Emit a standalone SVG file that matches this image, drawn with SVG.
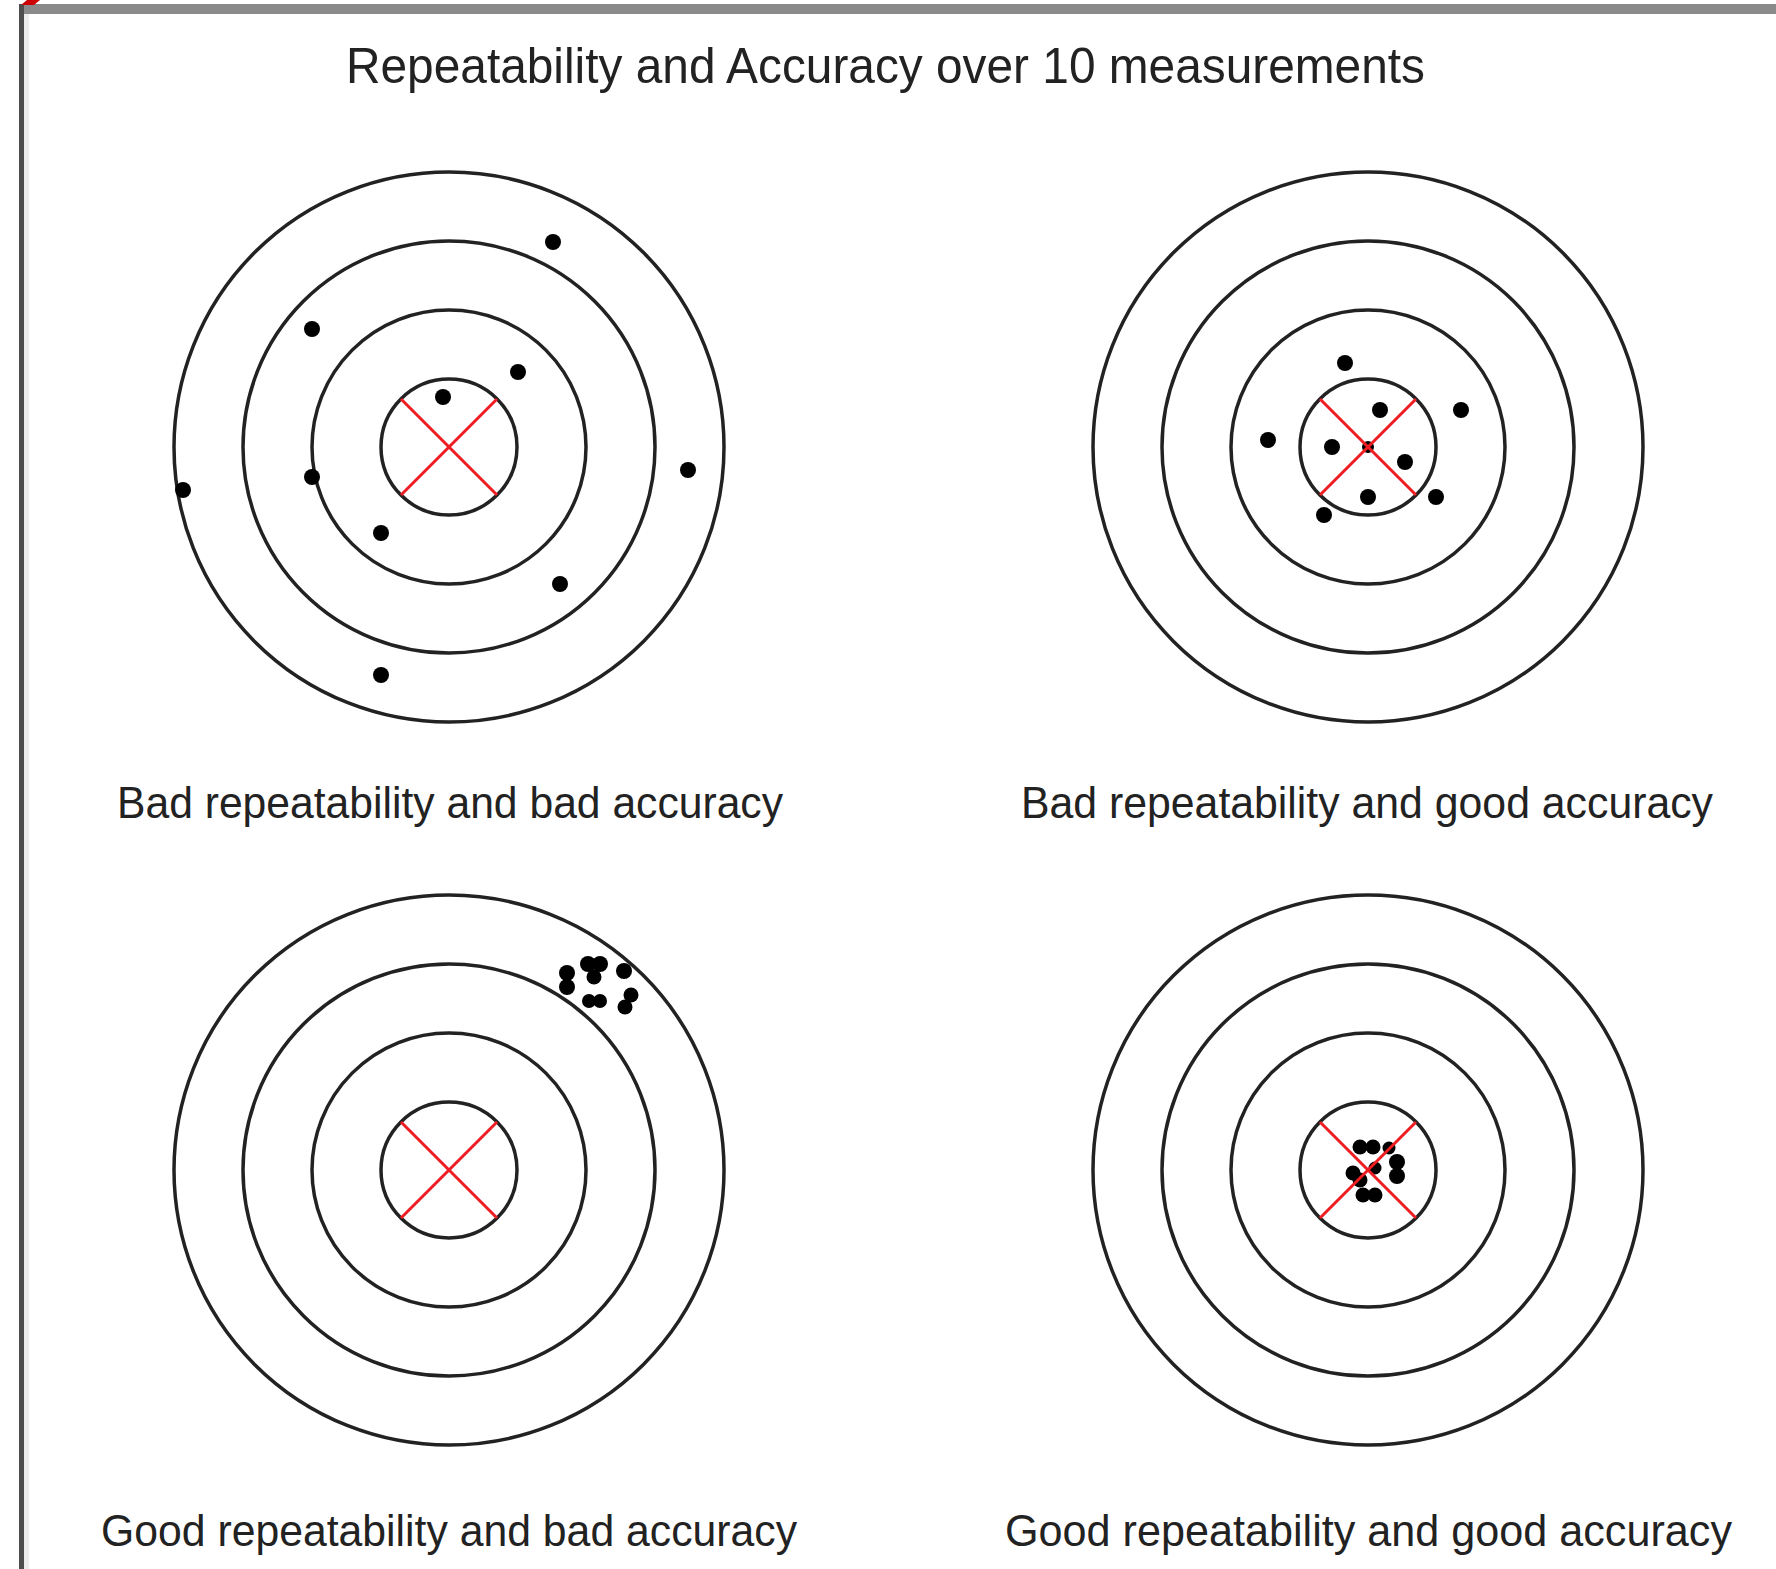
<svg xmlns="http://www.w3.org/2000/svg" xmlns:xlink="http://www.w3.org/1999/xlink" width="1776" height="1569" viewBox="0 0 1776 1569">
<style>
.ring{fill:none;stroke:#222;stroke-width:3.5}
.cross{stroke:#ee1d23;stroke-width:3;stroke-linecap:butt}
.dot{fill:#000}
.lbl{font-family:"Liberation Sans",Arial,sans-serif;font-size:45px;fill:#222}
.title{font-family:"Liberation Sans",Arial,sans-serif;font-size:50px;fill:#222}
</style>
<defs>
<g id="rings">
<circle class="ring" r="275"/>
<circle class="ring" r="206"/>
<circle class="ring" r="137"/>
<circle class="ring" r="68"/>
</g>
<g id="xmark">
<line class="cross" x1="-48" y1="-48" x2="48" y2="48"/>
<line class="cross" x1="48" y1="-48" x2="-48" y2="48"/>
</g>
</defs>
<rect x="0" y="0" width="1776" height="1569" fill="#fff"/>
<g id="frame">
<rect x="24" y="14" width="5" height="1555" fill="#ececec"/>
<rect x="19" y="4" width="1757" height="10" fill="#8a8a8a"/>
<rect x="19" y="4" width="5" height="1565" fill="#4d4d4d"/>
<polygon points="27,0 40,0 34,5 21,5" fill="#cc0000"/>
</g>
<text id="title" class="title" x="346" y="83" textLength="1079" lengthAdjust="spacingAndGlyphs">Repeatability and Accuracy over 10 measurements</text>
<g id="target-bad-bad">
<use xlink:href="#rings" href="#rings" x="449" y="447"/>
<use xlink:href="#xmark" href="#xmark" x="449" y="447"/>
<g class="dot">
<circle cx="553" cy="242" r="8"/>
<circle cx="312" cy="329" r="8"/>
<circle cx="518" cy="372" r="8"/>
<circle cx="443" cy="397" r="8"/>
<circle cx="688" cy="470" r="8"/>
<circle cx="183" cy="490" r="8"/>
<circle cx="312" cy="477" r="8"/>
<circle cx="381" cy="533" r="8"/>
<circle cx="560" cy="584" r="8"/>
<circle cx="381" cy="675" r="8"/>
</g>
<text class="lbl" x="117" y="818" textLength="666" lengthAdjust="spacingAndGlyphs">Bad repeatability and bad accuracy</text>
</g>
<g id="target-bad-good">
<use xlink:href="#rings" href="#rings" x="1368" y="447"/>
<g class="dot">
<circle cx="1345" cy="363" r="8"/>
<circle cx="1380" cy="410" r="8"/>
<circle cx="1461" cy="410" r="8"/>
<circle cx="1268" cy="440" r="8"/>
<circle cx="1332" cy="447" r="8"/>
<circle cx="1368" cy="447" r="6"/>
<circle cx="1405" cy="462" r="8"/>
<circle cx="1368" cy="497" r="8"/>
<circle cx="1436" cy="497" r="8"/>
<circle cx="1324" cy="515" r="8"/>
</g>
<use xlink:href="#xmark" href="#xmark" x="1368" y="447"/>
<text class="lbl" x="1021" y="818" textLength="692" lengthAdjust="spacingAndGlyphs">Bad repeatability and good accuracy</text>
</g>
<g id="target-good-bad">
<use xlink:href="#rings" href="#rings" x="449" y="1170"/>
<use xlink:href="#xmark" href="#xmark" x="449" y="1170"/>
<g class="dot">
<circle cx="567" cy="973" r="8"/>
<circle cx="567" cy="987" r="8"/>
<circle cx="588" cy="964" r="8"/>
<circle cx="600" cy="964" r="8"/>
<circle cx="594" cy="977" r="7.5"/>
<circle cx="624" cy="971" r="8"/>
<circle cx="589" cy="1001" r="7"/>
<circle cx="600" cy="1001" r="7"/>
<circle cx="631" cy="995" r="7.5"/>
<circle cx="625" cy="1007" r="7.5"/>
</g>
<text class="lbl" x="101" y="1546" textLength="696" lengthAdjust="spacingAndGlyphs">Good repeatability and bad accuracy</text>
</g>
<g id="target-good-good">
<use xlink:href="#rings" href="#rings" x="1368" y="1170"/>
<g class="dot">
<circle cx="1360" cy="1147" r="7.5"/>
<circle cx="1373" cy="1147" r="7.5"/>
<circle cx="1389" cy="1148" r="6.5"/>
<circle cx="1397" cy="1162" r="8"/>
<circle cx="1397" cy="1176" r="8"/>
<circle cx="1353" cy="1173" r="7.5"/>
<circle cx="1360" cy="1180" r="7.5"/>
<circle cx="1375" cy="1168" r="6.5"/>
<circle cx="1363" cy="1195" r="7.5"/>
<circle cx="1375" cy="1195" r="7.5"/>
</g>
<use xlink:href="#xmark" href="#xmark" x="1368" y="1170"/>
<text class="lbl" x="1005" y="1546" textLength="727" lengthAdjust="spacingAndGlyphs">Good repeatability and good accuracy</text>
</g>
<g id="connectors"/>
</svg>
